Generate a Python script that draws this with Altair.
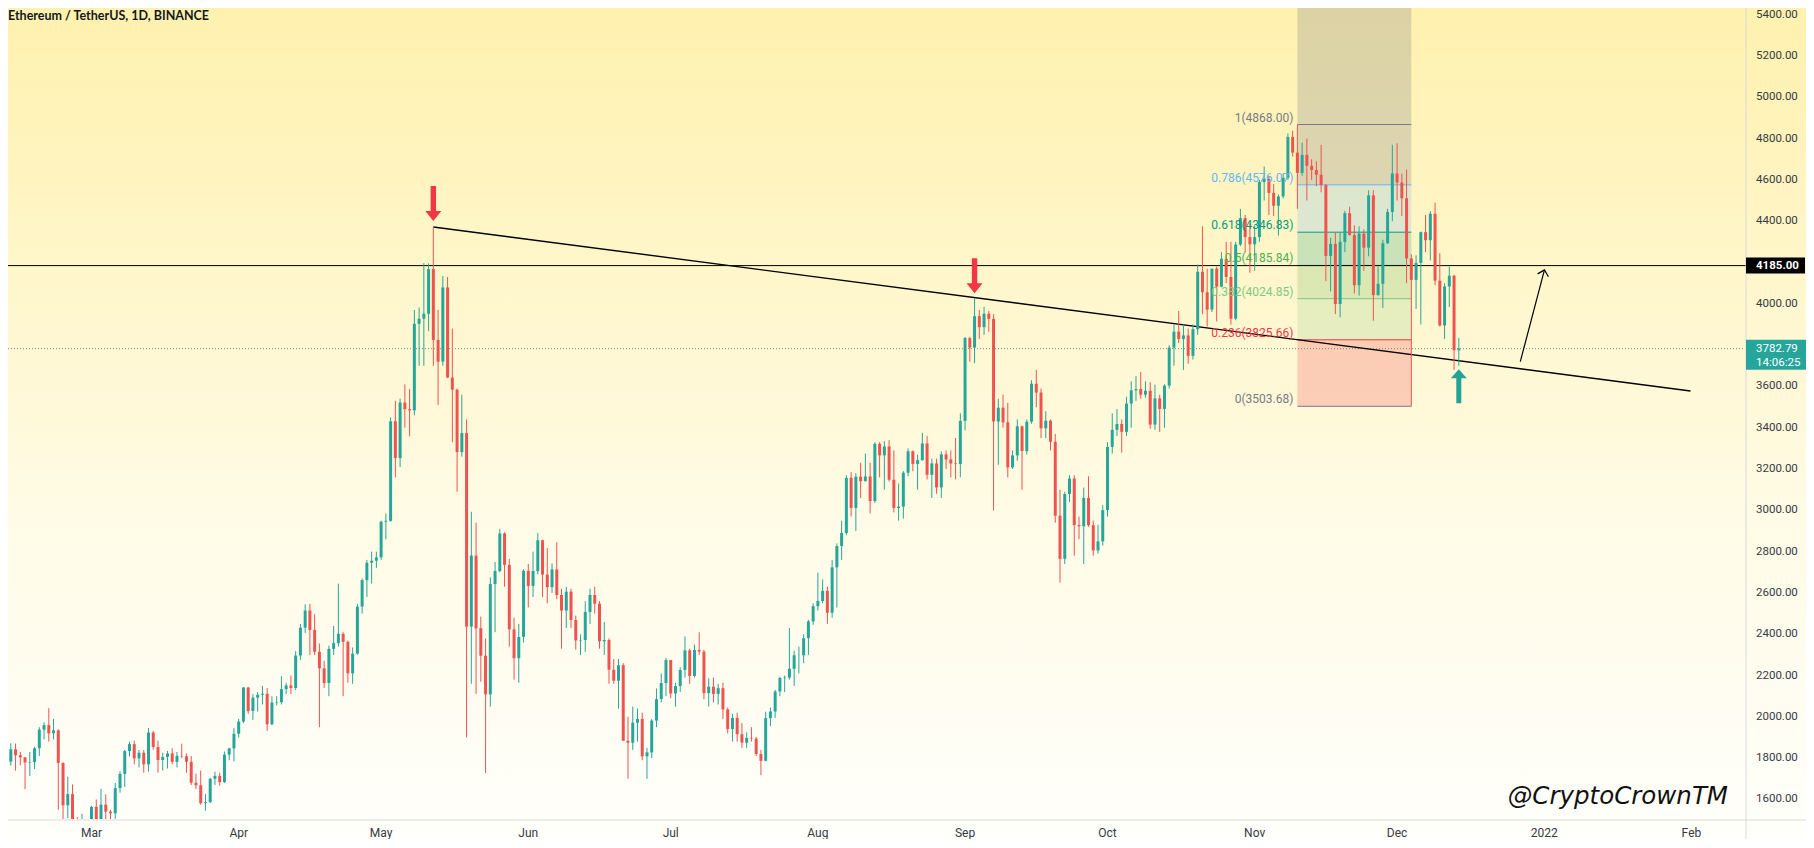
import altair as alt
import pandas as pd

# ---------------- ETH/USDT daily candles (open, high, low, close) ----------------
FEB_2021 = [  # Feb 12 .. Feb 28
    (1783, 1872, 1764, 1843), (1843, 1871, 1740, 1814), (1814, 1830, 1765, 1804), (1804, 1805, 1650, 1779),
    (1779, 1830, 1714, 1781), (1781, 1855, 1747, 1848), (1848, 1950, 1810, 1938), (1938, 1974, 1890, 1960),
    (1960, 2042, 1880, 1920), (1920, 1990, 1891, 1935), (1935, 1940, 1550, 1777), (1777, 1780, 1370, 1572),
    (1572, 1710, 1510, 1626), (1626, 1672, 1470, 1476), (1476, 1515, 1400, 1446), (1446, 1530, 1422, 1459),
    (1459, 1470, 1293, 1417),
]
MAR_2021 = [
    (1417, 1570, 1410, 1564), (1564, 1600, 1460, 1492), (1492, 1651, 1483, 1575), (1575, 1625, 1505, 1541),
    (1541, 1550, 1440, 1533), (1533, 1680, 1506, 1655), (1655, 1737, 1633, 1724), (1724, 1840, 1660, 1834),
    (1834, 1880, 1808, 1868), (1868, 1885, 1770, 1799), (1799, 1840, 1755, 1826), (1826, 1840, 1730, 1770),
    (1770, 1946, 1735, 1924), (1924, 1932, 1840, 1854), (1854, 1885, 1730, 1791), (1791, 1826, 1740, 1806),
    (1806, 1835, 1750, 1823), (1823, 1848, 1770, 1782), (1782, 1830, 1755, 1811), (1811, 1870, 1800, 1809),
    (1809, 1823, 1730, 1782), (1782, 1810, 1670, 1681), (1681, 1725, 1651, 1669), (1669, 1740, 1575, 1582),
    (1582, 1626, 1546, 1587), (1587, 1705, 1583, 1700), (1700, 1735, 1670, 1714), (1714, 1730, 1667, 1684),
    (1684, 1832, 1680, 1817), (1817, 1850, 1790, 1847), (1847, 1945, 1785, 1918),
]
APR_2021 = [
    (1918, 1990, 1900, 1977), (1977, 2145, 1970, 2142), (2142, 2145, 2015, 2028), (2028, 2110, 1985, 2093),
    (2093, 2120, 2025, 2107), (2107, 2150, 2060, 2112), (2112, 2140, 1932, 1964), (1964, 2100, 1960, 2069),
    (2069, 2100, 2055, 2071), (2071, 2196, 2060, 2134), (2134, 2165, 2110, 2152), (2152, 2200, 2110, 2140),
    (2140, 2318, 2130, 2297), (2297, 2450, 2276, 2432), (2432, 2545, 2406, 2515), (2515, 2547, 2300, 2421),
    (2421, 2497, 2300, 2315), (2315, 2355, 1950, 2235), (2235, 2272, 2140, 2164), (2164, 2345, 2100, 2329),
    (2329, 2440, 2300, 2357), (2357, 2645, 2340, 2402), (2402, 2410, 2100, 2363), (2363, 2370, 2166, 2211),
    (2211, 2336, 2160, 2306), (2306, 2547, 2300, 2534), (2534, 2670, 2500, 2662), (2662, 2760, 2580, 2746),
    (2746, 2800, 2645, 2756), (2756, 2800, 2720, 2772),
]
MAY_2021 = [
    (2772, 2950, 2760, 2945), (2945, 2985, 2860, 2949), (2949, 3450, 2945, 3431), (3431, 3530, 3160, 3253),
    (3253, 3541, 3210, 3522), (3522, 3610, 3400, 3490), (3490, 3587, 3358, 3484), (3484, 3970, 3460, 3903),
    (3903, 3982, 3700, 3928), (3928, 4197, 3700, 3952), (3952, 4196, 3868, 4168), (4168, 4372, 3700, 3825),
    (3825, 3970, 3510, 3720), (3720, 4135, 3700, 4079), (4079, 4130, 3640, 3643), (3643, 3880, 3330, 3584),
    (3584, 3590, 3090, 3282), (3282, 3560, 3260, 3374), (3374, 3440, 1900, 2437), (2437, 2993, 2160, 2781),
    (2781, 2940, 2111, 2429), (2429, 2485, 2170, 2296), (2296, 2380, 1728, 2109), (2109, 2675, 2050, 2643),
    (2643, 2750, 2410, 2706), (2706, 2910, 2700, 2888), (2888, 2894, 2630, 2736), (2736, 2765, 2340, 2424),
    (2424, 2480, 2180, 2284), (2284, 2450, 2165, 2387), (2387, 2715, 2360, 2707),
]
JUN_2021 = [
    (2707, 2740, 2530, 2634), (2634, 2800, 2580, 2706), (2706, 2890, 2690, 2855), (2855, 2858, 2580, 2689),
    (2689, 2817, 2550, 2628), (2628, 2743, 2600, 2714), (2714, 2845, 2570, 2590), (2590, 2620, 2330, 2515),
    (2515, 2630, 2430, 2606), (2606, 2620, 2430, 2469), (2469, 2490, 2325, 2370), (2370, 2400, 2300, 2372),
    (2372, 2560, 2315, 2508), (2508, 2620, 2450, 2590), (2590, 2630, 2500, 2548), (2548, 2560, 2330, 2366),
    (2366, 2460, 2300, 2372), (2372, 2380, 2160, 2228), (2228, 2280, 2160, 2175), (2175, 2280, 2040, 2250),
    (2250, 2260, 1890, 1884), (1884, 2000, 1700, 1875), (1875, 2050, 1840, 1972), (1972, 2040, 1880, 1990),
    (1990, 2020, 1790, 1809), (1809, 1850, 1700, 1828), (1828, 1990, 1800, 1982), (1982, 2137, 1950, 2086),
    (2086, 2210, 2070, 2164), (2164, 2285, 2100, 2275),
]
JUL_2021 = [
    (2275, 2275, 2090, 2113), (2113, 2165, 2050, 2149), (2149, 2240, 2120, 2227), (2227, 2390, 2190, 2322),
    (2322, 2330, 2160, 2198), (2198, 2350, 2190, 2324), (2324, 2410, 2300, 2316), (2316, 2325, 2085, 2115),
    (2115, 2187, 2050, 2146), (2146, 2190, 2070, 2111), (2111, 2160, 2060, 2139), (2139, 2165, 1990, 2036),
    (2036, 2045, 1920, 1941), (1941, 2015, 1880, 1995), (1995, 2020, 1880, 1916), (1916, 1970, 1850, 1875),
    (1875, 1925, 1850, 1898), (1898, 1950, 1880, 1895), (1895, 1903, 1810, 1820), (1820, 1840, 1718, 1787),
    (1787, 2025, 1785, 1994), (1994, 2045, 1955, 2026), (2026, 2130, 1995, 2123), (2123, 2195, 2100, 2188),
    (2188, 2200, 2120, 2190), (2190, 2430, 2180, 2233), (2233, 2320, 2150, 2298), (2298, 2340, 2210, 2298),
    (2298, 2400, 2260, 2381), (2381, 2470, 2300, 2462), (2462, 2550, 2445, 2536),
]
AUG_2021 = [
    (2536, 2698, 2515, 2561), (2561, 2665, 2550, 2610), (2610, 2630, 2450, 2504), (2504, 2760, 2480, 2724),
    (2724, 2840, 2530, 2827), (2827, 2950, 2760, 2890), (2890, 3170, 2880, 3157), (3157, 3185, 2970, 3012),
    (3012, 3180, 2900, 3163), (3163, 3230, 3060, 3141), (3141, 3275, 3140, 3164), (3164, 3230, 2985, 3045),
    (3045, 3330, 3035, 3322), (3322, 3330, 3160, 3266), (3266, 3335, 3100, 3309), (3309, 3340, 3140, 3148),
    (3148, 3290, 2990, 3011), (3011, 3130, 2950, 3018), (3018, 3190, 2960, 3182), (3182, 3300, 3165, 3286),
    (3286, 3290, 3190, 3225), (3225, 3270, 3100, 3243), (3243, 3375, 3240, 3324), (3324, 3360, 3150, 3172),
    (3172, 3250, 3060, 3227), (3227, 3250, 3080, 3111), (3111, 3285, 3060, 3271), (3271, 3290, 3200, 3246),
    (3246, 3290, 3160, 3227), (3227, 3350, 3150, 3224), (3224, 3470, 3160, 3433),
]
SEP_2021 = [
    (3433, 3840, 3387, 3834), (3834, 3840, 3720, 3788), (3788, 4027, 3713, 3940), (3940, 3970, 3830, 3887),
    (3887, 3985, 3850, 3952), (3952, 3965, 3865, 3927), (3927, 3950, 3000, 3430), (3430, 3540, 3220, 3497),
    (3497, 3560, 3400, 3426), (3426, 3520, 3160, 3208), (3208, 3290, 3200, 3266), (3266, 3440, 3240, 3407),
    (3407, 3410, 3100, 3287), (3287, 3440, 3270, 3429), (3429, 3630, 3420, 3613), (3613, 3680, 3500, 3570),
    (3570, 3590, 3350, 3397), (3397, 3480, 3350, 3434), (3434, 3440, 3290, 3332), (3332, 3370, 2940, 2974),
    (2974, 3100, 2650, 2765), (2765, 3090, 2740, 3079), (3079, 3170, 3040, 3154), (3154, 3170, 2780, 2929),
    (2929, 2970, 2860, 2923), (2923, 3110, 2740, 3060), (3060, 3165, 2920, 2928), (2928, 2950, 2780, 2806),
    (2806, 2930, 2790, 2850), (2850, 3025, 2830, 3001),
]
OCT_2021 = [
    (3001, 3330, 2970, 3307), (3307, 3470, 3275, 3390), (3390, 3490, 3360, 3418), (3418, 3440, 3280, 3380),
    (3380, 3550, 3360, 3517), (3517, 3625, 3400, 3581), (3581, 3650, 3530, 3587), (3587, 3670, 3540, 3560),
    (3560, 3625, 3545, 3579), (3579, 3620, 3395, 3415), (3415, 3608, 3390, 3542), (3542, 3560, 3380, 3491),
    (3491, 3610, 3400, 3604), (3604, 3800, 3590, 3788), (3788, 3900, 3700, 3865), (3865, 3965, 3810, 3830),
    (3830, 3900, 3680, 3847), (3847, 3880, 3710, 3748), (3748, 3900, 3730, 3877), (3877, 4190, 3850, 4155),
    (4155, 4375, 3950, 4056), (4056, 4170, 3890, 3972), (3972, 4170, 3960, 4170), (4170, 4180, 3915, 4083),
    (4083, 4250, 4080, 4218), (4218, 4300, 4100, 4130), (4130, 4300, 3900, 3928), (3928, 4300, 3920, 4287),
    (4287, 4460, 4280, 4415), (4415, 4430, 4250, 4323), (4323, 4390, 4150, 4288),
]
NOV_2021 = [
    (4288, 4380, 4160, 4323), (4323, 4600, 4300, 4590), (4590, 4665, 4500, 4605), (4605, 4620, 4430, 4537),
    (4537, 4580, 4425, 4475), (4475, 4530, 4330, 4520), (4520, 4630, 4510, 4610), (4610, 4825, 4600, 4808),
    (4808, 4838, 4713, 4732), (4732, 4868, 4460, 4634), (4634, 4780, 4620, 4721), (4721, 4800, 4500, 4668),
    (4668, 4700, 4600, 4648), (4648, 4690, 4570, 4625), (4625, 4770, 4540, 4575), (4575, 4580, 4110, 4232),
    (4232, 4320, 4060, 4290), (4290, 4345, 3950, 3999), (3999, 4345, 3935, 4300), (4300, 4450, 4250, 4439),
    (4439, 4470, 4330, 4333), (4333, 4380, 4050, 4090), (4090, 4375, 4040, 4340), (4340, 4360, 4160, 4272),
    (4272, 4550, 4230, 4525), (4525, 4550, 3918, 4042), (4042, 4180, 4040, 4097), (4097, 4310, 3980, 4293),
    (4293, 4460, 4290, 4445), (4445, 4770, 4400, 4631),
]
DEC_2021 = [  # Dec 1 .. Dec 14 (last one still open)
    (4631, 4778, 4500, 4587), (4587, 4630, 4425, 4511), (4511, 4650, 4100, 4220), (4220, 4240, 3503.68, 4116),
    (4116, 4235, 3975, 4198), (4198, 4350, 3900, 4347), (4347, 4430, 4250, 4308), (4308, 4448, 4210, 4436),
    (4436, 4490, 4090, 4112), (4112, 4245, 3890, 3895), (3895, 4100, 3830, 4084), (4084, 4180, 3985, 4136),
    (4136, 4140, 3680, 3775), (3775, 3835, 3700, 3782.79),
]
MONTH_BLOCKS = [
    ("2021-02-12", FEB_2021), ("2021-03-01", MAR_2021), ("2021-04-01", APR_2021), ("2021-05-01", MAY_2021),
    ("2021-06-01", JUN_2021), ("2021-07-01", JUL_2021), ("2021-08-01", AUG_2021), ("2021-09-01", SEP_2021),
    ("2021-10-01", OCT_2021), ("2021-11-01", NOV_2021), ("2021-12-01", DEC_2021),
]

# axis ticks / labels
MONTH_TICK_DAYS = [60, 91, 121, 152, 182, 213, 244, 274, 305, 335, 366, 397]   # day number (2021-01-01 = 1)
MONTH_TICK_LABELS = ["Mar", "Apr", "May", "Jun", "Jul", "Aug", "Sep", "Oct", "Nov", "Dec", "2022", "Feb"]
Y_TICKS = [1600, 1800, 2000, 2200, 2400, 2600, 2800, 3000, 3200, 3400, 3600,
           4000, 4400, 4600, 4800, 5000, 5200, 5400]

# drawings
LEVEL_PRICE = 4185.00
LAST_PRICE = 3782.79
LAST_TIMER = "14:06:25"
TREND_DAYS = [132, 396.8]
TREND_PRICES = [4372, 3578]
FIB_DAYS = [314, 338]
FIB_RATIOS = ["1", "0.786", "0.618", "0.5", "0.382", "0.236", "0"]
FIB_PRICES = [4868.00, 4576.07, 4346.83, 4185.84, 4024.85, 3825.66, 3503.68]
FIB_COLORS = ["#787b86", "#64b5f6", "#089981", "#4caf50", "#81c784", "#f23645", "#787b86"]
DOWN_ARROW_DAYS = [132, 246]
DOWN_ARROW_PRICES = [4486, 4136]
UP_ARROW_DAYS = [348]
UP_ARROW_PRICES = [3601]
PROJ_DAYS = [360.95, 366.04]
PROJ_PRICES = [3720, 4164]

X_DOMAIN = [43.461, 407.23]
Y_DOMAIN = [1505.4, 5432.3]
W, H = 1737, 811
TOTAL_W, TOTAL_H = 1798, 831

UP, DOWN = "#26a69a", "#ef5350"
AXIS_TEXT = "#363a45"

# ---------------- build tables ----------------
rows = []
for start, block in MONTH_BLOCKS:
    d0 = pd.Timestamp(start).dayofyear
    for i, (o, h, l, c) in enumerate(block):
        rows.append({"d": d0 + i, "open": o, "high": h, "low": l, "close": c,
                     "dir": "up" if c >= o else "down"})
candles = pd.DataFrame(rows)

xs = alt.Scale(domain=X_DOMAIN, nice=False, zero=False)
ys = alt.Scale(domain=Y_DOMAIN, nice=False, zero=False)
cs = alt.Scale(domain=["up", "down"], range=[UP, DOWN])


def X(f):
    return alt.X(f, type="quantitative", scale=xs, axis=None)


def Y(f):
    return alt.Y(f, type="quantitative", scale=ys, axis=None)


one = alt.Data(values=[{"k": 0}])

# background gradient
bg = alt.Chart(one).mark_rect(
    color=alt.Gradient(gradient="linear", x1=0, x2=0, y1=0, y2=1,
                       stops=[alt.GradientStop(offset=0, color="#fff1ae"),
                              alt.GradientStop(offset=0.3, color="#fff6c9"),
                              alt.GradientStop(offset=0.62, color="#fffbe6"),
                              alt.GradientStop(offset=1, color="#fffffb")])
).encode(x=alt.value(0), x2=alt.value(TOTAL_W), y=alt.value(0), y2=alt.value(TOTAL_H))

# fib bands
band_tops = [Y_DOMAIN[1]] + FIB_PRICES[1:6]
band_bottoms = FIB_PRICES[1:7]
band_colors = [FIB_COLORS[0]] + FIB_COLORS[1:6]
fib_bands = pd.DataFrame({"x1": FIB_DAYS[0], "x2": FIB_DAYS[1], "top": band_tops,
                          "bottom": band_bottoms, "col": band_colors,
                          "op": [0.26, 0.22, 0.22, 0.2, 0.2, 0.22]})
fib_levels = pd.DataFrame({"x1": FIB_DAYS[0], "x2": FIB_DAYS[1], "p": FIB_PRICES, "col": FIB_COLORS,
                           "label": [f"{r}({p:.2f})" for r, p in zip(FIB_RATIOS, FIB_PRICES)]})

bands = alt.Chart(fib_bands).mark_rect(clip=True).encode(
    x=X("x1"), x2="x2", y=Y("top"), y2="bottom",
    color=alt.Color("col:N", scale=None), opacity=alt.Opacity("op:Q", scale=None))
level_lines = alt.Chart(fib_levels).mark_rule(strokeWidth=1).encode(
    x=X("x1"), x2="x2", y=Y("p"), color=alt.Color("col:N", scale=None))
level_labels = alt.Chart(fib_levels).mark_text(align="right", baseline="bottom", dx=-4, dy=0,
                                                font="Roboto", fontSize=12).encode(
    x=X("x1"), y=Y("p"), text="label:N", color=alt.Color("col:N", scale=None))

hline = alt.Chart(pd.DataFrame({"p": [LEVEL_PRICE]})).mark_rule(color="#000000", strokeWidth=1).encode(
    y=Y("p"), x=alt.value(0), x2=alt.value(W + 1))
pline = alt.Chart(pd.DataFrame({"p": [LAST_PRICE]})).mark_rule(
    color="#6f8d8a", strokeWidth=1, strokeDash=[1, 2]).encode(y=Y("p"), x=alt.value(0), x2=alt.value(W))

trend = alt.Chart(pd.DataFrame({"d": TREND_DAYS, "p": TREND_PRICES})).mark_line(
    color="#000000", strokeWidth=1.4).encode(x=X("d"), y=Y("p"))

wicks = alt.Chart(candles).mark_rule(strokeWidth=1, clip=True).encode(
    x=X("d"), y=Y("low"), y2="high", color=alt.Color("dir:N", scale=cs, legend=None))
bodies = alt.Chart(candles).mark_bar(size=3, clip=True).encode(
    x=X("d"), y=Y("open"), y2="close", color=alt.Color("dir:N", scale=cs, legend=None))

DOWN_PATH = "M -0.154 -1 L 0.154 -1 L 0.154 0.43 L 0.457 0.43 L 0 1 L -0.457 0.43 L -0.154 0.43 Z"
UP_PATH = "M -0.147 1 L 0.147 1 L 0.147 -0.47 L 0.47 -0.47 L 0 -1 L -0.47 -0.47 L -0.147 -0.47 Z"
down_arrows = alt.Chart(pd.DataFrame({"d": DOWN_ARROW_DAYS, "p": DOWN_ARROW_PRICES})).mark_point(
    shape=DOWN_PATH, size=1225, filled=True, color="#f23645", opacity=1, strokeWidth=0).encode(
    x=X("d"), y=Y("p"))
up_arrows = alt.Chart(pd.DataFrame({"d": UP_ARROW_DAYS, "p": UP_ARROW_PRICES})).mark_point(
    shape=UP_PATH, size=1156, filled=True, color="#22a396", opacity=1, strokeWidth=0).encode(
    x=X("d"), y=Y("p"))

proj = pd.DataFrame({"d": PROJ_DAYS, "p": PROJ_PRICES})
proj_line = alt.Chart(proj).mark_line(color="#000000", strokeWidth=1.2).encode(x=X("d"), y=Y("p"))
proj_head = alt.Chart(proj.tail(1)).mark_point(
    shape="M -0.8 0.8 L 0 0 L 0.8 0.8", size=196, filled=False, color="#000000", strokeWidth=1.2,
    opacity=1, angle=15).encode(x=X("d"), y=Y("p"))

title = alt.Chart(one).mark_text(text="Ethereum / TetherUS, 1D, BINANCE", align="left", baseline="middle",
                                 font="Lato", fontSize=12.5, fontWeight="bold", color="#131722").encode(
    x=alt.value(0), y=alt.value(8))
watermark = alt.Chart(one).mark_text(text="@CryptoCrownTM", align="right", baseline="alphabetic",
                                     font="DejaVu Sans", fontStyle="italic", fontSize=24.5,
                                     color="#111111").encode(x=alt.value(1720), y=alt.value(796))

# time scale labels (drawn through the x scale)
x_labels_df = pd.DataFrame({"d": MONTH_TICK_DAYS, "t": MONTH_TICK_LABELS})
x_labels = alt.Chart(x_labels_df).mark_text(align="center", baseline="middle", font="Roboto", fontSize=12,
                                            color=AXIS_TEXT).encode(x=X("d"), y=alt.value(H + 14), text="t:N")
# price scale labels (drawn through the y scale)
y_labels_df = pd.DataFrame({"p": Y_TICKS, "t": [f"{v:.2f}" for v in Y_TICKS]})
y_labels = alt.Chart(y_labels_df).mark_text(align="left", baseline="middle", font="Roboto", fontSize=11.5,
                                            color=AXIS_TEXT).encode(x=alt.value(W + 11), y=Y("p"), text="t:N")

# separators of the price / time scales
sep_v = alt.Chart(one).mark_rule(color="#d9d9d9", strokeWidth=1).encode(
    x=alt.value(W + 1), y=alt.value(0), y2=alt.value(TOTAL_H))
sep_h = alt.Chart(one).mark_rule(color="#d9d9d9", strokeWidth=1).encode(
    y=alt.value(H + 1), x=alt.value(0), x2=alt.value(TOTAL_W))

# price tags on the scale
lvl_df = pd.DataFrame({"p": [LEVEL_PRICE], "t": [f"{LEVEL_PRICE:.2f}"]})
lvl_box = alt.Chart(lvl_df).mark_rect(color="#000000", yOffset=-8, y2Offset=8).encode(
    x=alt.value(W + 1), x2=alt.value(W + 60), y=Y("p"), y2="p")
lvl_txt = alt.Chart(lvl_df).mark_text(align="left", baseline="middle", font="Roboto", fontSize=11.5,
                                      fontWeight="bold", color="#ffffff").encode(
    x=alt.value(W + 11), y=Y("p"), text="t:N")
last_df = pd.DataFrame({"p": [LAST_PRICE], "t": [f"{LAST_PRICE:.2f}"], "t2": [LAST_TIMER]})
last_box = alt.Chart(last_df).mark_rect(color="#26a69a", yOffset=-9, y2Offset=21).encode(
    x=alt.value(W + 1), x2=alt.value(TOTAL_W), y=Y("p"), y2="p")
last_txt = alt.Chart(last_df).mark_text(align="left", baseline="middle", font="Roboto", fontSize=11.5,
                                        color="#ffffff").encode(x=alt.value(W + 11), y=Y("p"), text="t:N")
last_txt2 = alt.Chart(last_df).mark_text(align="left", baseline="middle", font="Roboto", fontSize=11.5,
                                         color="#ffffff", dy=14).encode(x=alt.value(W + 11), y=Y("p"),
                                                                         text="t2:N")

chart = alt.layer(
    bg, bands, level_lines, hline, pline, trend, wicks, bodies, level_labels,
    down_arrows, up_arrows, proj_line, proj_head, title, watermark, sep_v, sep_h,
    x_labels, y_labels, lvl_box, lvl_txt, last_box, last_txt, last_txt2,
).properties(
    width=W, height=H,
    padding={"left": 0, "top": 0, "right": TOTAL_W - W, "bottom": TOTAL_H - H},
    autosize=alt.AutoSizeParams(type="none"),
    background="#ffffff",
).configure_view(stroke=None)

chart.save("out.html", embed_options={"renderer": "svg", "actions": False})
